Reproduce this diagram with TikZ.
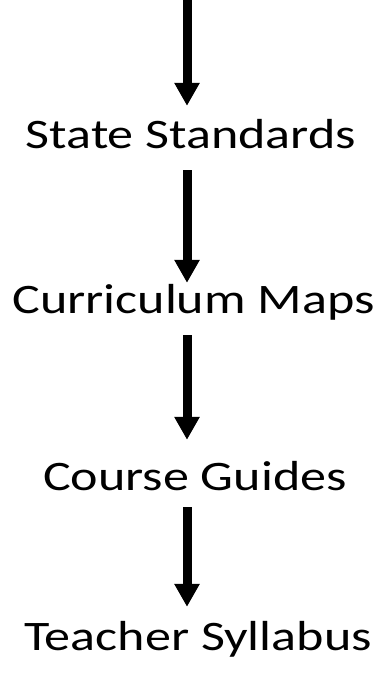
\documentclass[tikz,border=0pt]{standalone}
\usepackage{fontspec}
\setmainfont{Carlito}
\newfontfamily\stagefont[FakeStretch=1.24]{Carlito}
\usetikzlibrary{arrows.meta}
\tikzset{
  stage/.style={anchor=base, inner sep=0pt, text height=30pt, text depth=9pt,
    font=\stagefont\fontsize{42}{50}\selectfont},
  flow/.style={line width=9pt, -{Triangle[width=24pt,length=23pt]}}
}
\begin{document}
\begin{tikzpicture}[x=1pt,y=-1pt]
    \useasboundingbox (0,0) rectangle (382,673);
    \coordinate (top) at (187,0);
    \node[stage] (ss) at (191,148.5) {State Standards};
    \node[stage] (cm) at (193.5,313) {Curriculum Maps};
    \node[stage] (cg) at (195,490) {Course Guides};
    \node[stage] (ts) at (198,650) {Teacher Syllabus};
    \draw[flow, shorten >=12.5pt] (top) -- (ss.north -| top);
    \draw[flow, shorten <=12.5pt] (ss.south -| top) -- (cm.north -| top);
    \draw[flow, shorten <=13pt, shorten >=20pt] (cm.south -| top) -- (cg.north -| top);
    \draw[flow, shorten <=8pt, shorten >=13pt] (cg.south -| top) -- (ts.north -| top);
\end{tikzpicture}
\end{document}
